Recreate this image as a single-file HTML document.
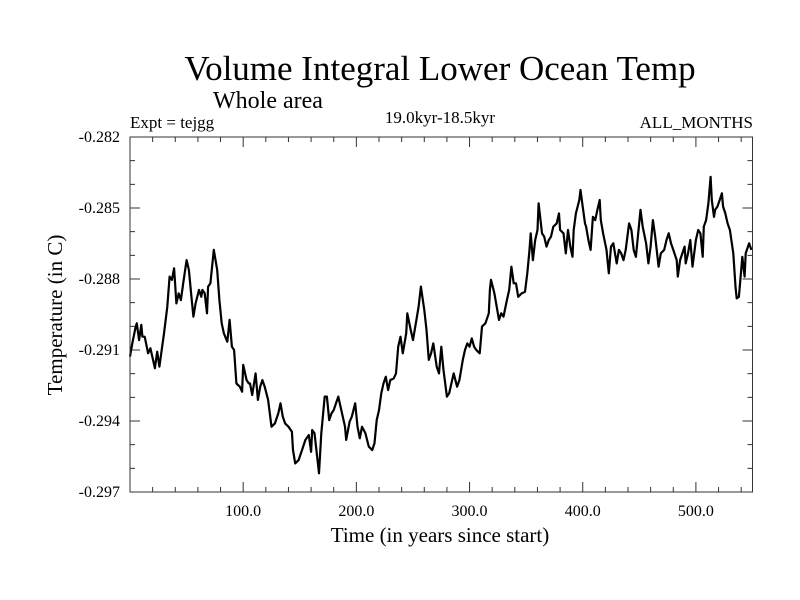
<!DOCTYPE html>
<html><head><meta charset="utf-8"><style>
body{margin:0;background:#fff;}
svg{display:block;font-family:"Liberation Serif",serif;}
</style></head><body>
<svg id="chart" width="800" height="600" viewBox="0 0 800 600">
<text x="440" y="80" font-size="35" text-anchor="middle">Volume Integral Lower Ocean Temp</text>
<text x="268" y="108" font-size="24" text-anchor="middle">Whole area</text>
<text x="130" y="128" font-size="17">Expt = tejgg</text>
<text x="440" y="123" font-size="17" text-anchor="middle">19.0kyr-18.5kyr</text>
<text x="753" y="128" font-size="17" text-anchor="end">ALL_MONTHS</text>
<text x="440" y="542" font-size="21" text-anchor="middle">Time (in years since start)</text>
<text x="0" y="0" font-size="21" text-anchor="middle" transform="translate(62,315) rotate(-90)">Temperature (in C)</text>
<g id="axes"></g>
<path id="line" fill="none" stroke="#000" stroke-width="2.2" stroke-linejoin="round"/>
<rect x="130" y="137" width="622.5" height="355" fill="none" stroke="#333" stroke-width="1"/>
</svg>
<script>
const times=[0,2,5,6,8,10,11,13,16,18,21,22,24,26,28,30,33,35,37,39,41,43,45,47,50,52,54,56,58,61,63,64,66,68,69,71,74,77,79,81,83,86,88,90,92,94,97,99,100,103,105,106,108,111,113,115,117,119,122,125,128,131,133,135,137,140,143,144,146,149,152,155,158,160,161,163,166,167,169,172,174,176,178,180,182,184,186,188,190,191,194,196,199,201,203,205,208,211,214,216,218,220,222,224,226,228,230,233,235,237,239,241,244,245,248,250,253,255,257,260,262,264,266,268,271,273,275,277,280,282,284,286,289,291,294,296,298,300,302,304,306,309,311,314,317,318,319,322,324,326,328,330,333,335,337,339,341,343,346,349,351,353,354,356,358,360,361,364,366,368,370,372,374,377,379,380,383,385,387,389,391,392,394,397,398,400,402,403,405,407,409,411,413,415,416,418,421,423,425,427,430,432,434,436,438,441,443,445,447,449,451,453,456,458,460,462,464,467,469,472,474,476,478,480,483,484,486,489,490,491,493,495,497,500,502,504,506,507,509,511,513,514,516,517,519,521,523,524,526,528,530,533,535,536,538,540,541,543,544,547,549];
const temps=[-0.29128,-0.29072,-0.29001,-0.28987,-0.29058,-0.28994,-0.29044,-0.29044,-0.29114,-0.29093,-0.29156,-0.29177,-0.29107,-0.2917,-0.291,-0.2903,-0.28917,-0.2879,-0.28804,-0.28755,-0.28903,-0.28861,-0.28889,-0.28818,-0.2872,-0.28762,-0.28861,-0.28959,-0.28903,-0.28846,-0.28875,-0.28846,-0.28861,-0.28945,-0.28832,-0.28818,-0.28677,-0.28762,-0.28889,-0.28987,-0.2903,-0.29065,-0.28973,-0.29086,-0.291,-0.29241,-0.29255,-0.29276,-0.29163,-0.29227,-0.29241,-0.29241,-0.2929,-0.29199,-0.29311,-0.29255,-0.29227,-0.29255,-0.29311,-0.29424,-0.2941,-0.29368,-0.29325,-0.29382,-0.2941,-0.29424,-0.29445,-0.29523,-0.29579,-0.29565,-0.29523,-0.2948,-0.29459,-0.2953,-0.29438,-0.29452,-0.29579,-0.29621,-0.29452,-0.29297,-0.29297,-0.29396,-0.29368,-0.29354,-0.29325,-0.29297,-0.29339,-0.29382,-0.29424,-0.2948,-0.29403,-0.29382,-0.29325,-0.29424,-0.29473,-0.29424,-0.29452,-0.29508,-0.29523,-0.29494,-0.29396,-0.29354,-0.29283,-0.29241,-0.29213,-0.29269,-0.29227,-0.2922,-0.29199,-0.29086,-0.29044,-0.29114,-0.2903,-0.28945,-0.29015,-0.29058,-0.28973,-0.28917,-0.28832,-0.28931,-0.29015,-0.29142,-0.29114,-0.29072,-0.2917,-0.29199,-0.29086,-0.29185,-0.29297,-0.29283,-0.29241,-0.29199,-0.29255,-0.29227,-0.29142,-0.291,-0.29072,-0.29086,-0.29051,-0.29086,-0.291,-0.29114,-0.29001,-0.28987,-0.28945,-0.28846,-0.28804,-0.28861,-0.28917,-0.28973,-0.28945,-0.28959,-0.28889,-0.28846,-0.28748,-0.28818,-0.28818,-0.28875,-0.28861,-0.28854,-0.28776,-0.28677,-0.28607,-0.2872,-0.28635,-0.28593,-0.2848,-0.28607,-0.28621,-0.28663,-0.28635,-0.28621,-0.28579,-0.28565,-0.28523,-0.28593,-0.28607,-0.28692,-0.28593,-0.28663,-0.28706,-0.28593,-0.28523,-0.28466,-0.28424,-0.28494,-0.28565,-0.28579,-0.28635,-0.28677,-0.28537,-0.28551,-0.28508,-0.28466,-0.28551,-0.28607,-0.28677,-0.28776,-0.28663,-0.28649,-0.28734,-0.28677,-0.28692,-0.2872,-0.28677,-0.28565,-0.28593,-0.28677,-0.28706,-0.28607,-0.28508,-0.28579,-0.28649,-0.28734,-0.28663,-0.28551,-0.28621,-0.28748,-0.28692,-0.28677,-0.28635,-0.28607,-0.28649,-0.28677,-0.2872,-0.2879,-0.2872,-0.28677,-0.28663,-0.28734,-0.28692,-0.28635,-0.28748,-0.28635,-0.28593,-0.28607,-0.28706,-0.28579,-0.28551,-0.2848,-0.28368,-0.28466,-0.28537,-0.28508,-0.28494,-0.28466,-0.28438,-0.28494,-0.28523,-0.28565,-0.28593,-0.28692,-0.28832,-0.28882,-0.28875,-0.28762,-0.28706,-0.2879,-0.28692,-0.28649,-0.28677];
const xTickVals=[100,200,300,400,500];
const xTickLabels=["100.0","200.0","300.0","400.0","500.0"];
const yTickVals=[-0.282,-0.285,-0.288,-0.291,-0.294,-0.297];
const yTickLabels=["-0.282","-0.285","-0.288","-0.291","-0.294","-0.297"];
const X0=130,X1=752.5,Y0=137,Y1=492,XMIN=0,XMAX=550,YMIN=-0.297,YMAX=-0.282;
function sx(t){return X0+(t-XMIN)/(XMAX-XMIN)*(X1-X0);}
function sy(v){return Y1-(v-YMIN)/(YMAX-YMIN)*(Y1-Y0);}
const NS="http://www.w3.org/2000/svg";
const axes=document.getElementById('axes');
let tp="";
for(let t=20;t<XMAX;t+=20){const x=sx(t);const major=t%100===0;const L=major?10:5;tp+=`M${x},${Y1}v${-L}M${x},${Y0}v${L}`;}
for(let k=1;k<15;k++){const v=YMIN+k*0.001;const y=sy(v);const major=k%3===0;const L=major?10:5;tp+=`M${X0},${y}h${L}M${X1},${y}h${-L}`;}
const ticks=document.createElementNS(NS,'path');
ticks.setAttribute('d',tp);ticks.setAttribute('stroke','#333');ticks.setAttribute('fill','none');


axes.appendChild(ticks);
xTickVals.forEach((t,i)=>{const e=document.createElementNS(NS,'text');e.setAttribute('x',sx(t));e.setAttribute('y',516);e.setAttribute('font-size','16');e.setAttribute('text-anchor','middle');e.textContent=xTickLabels[i];


axes.appendChild(e);});
yTickVals.forEach((v,i)=>{const e=document.createElementNS(NS,'text');e.setAttribute('x',120);e.setAttribute('y',sy(v)+5);e.setAttribute('font-size','16');e.setAttribute('text-anchor','end');e.textContent=yTickLabels[i];


axes.appendChild(e);});
document.getElementById('line').setAttribute('d',times.map((t,i)=>(i?'L':'M')+sx(t).toFixed(1)+','+sy(temps[i]).toFixed(1)).join(''));
</script>
</body></html>
